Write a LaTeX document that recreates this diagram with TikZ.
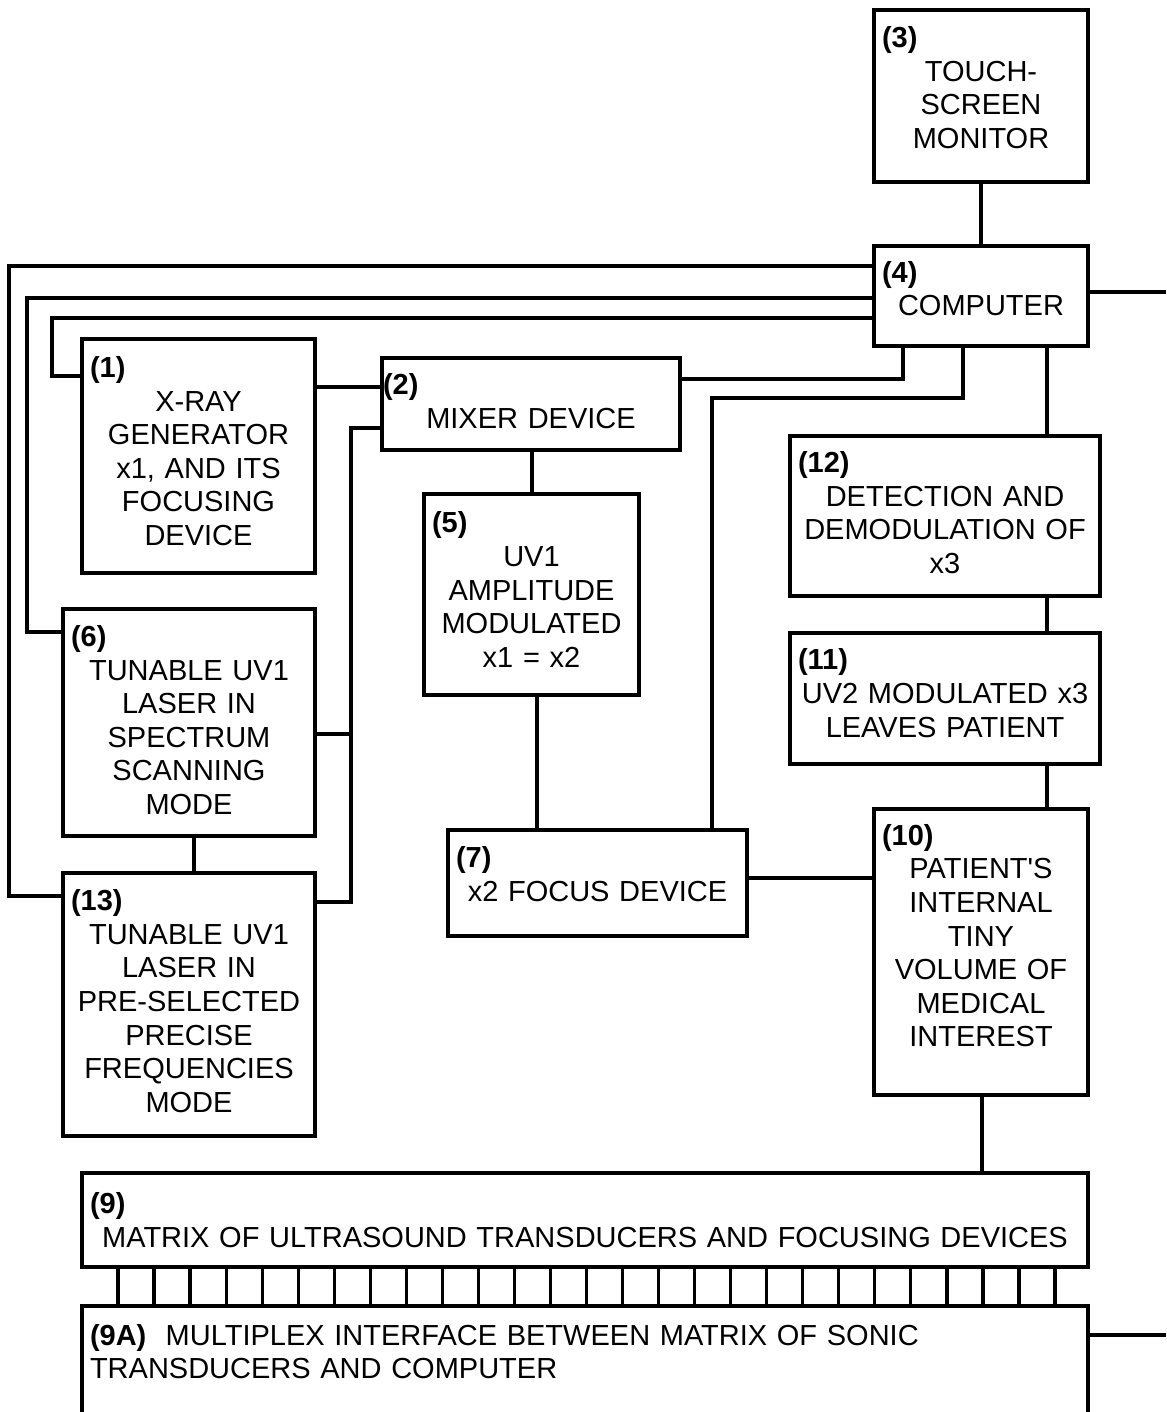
\documentclass[tikz,border=0pt]{standalone}
\usepackage{fontspec}
\setmainfont{Liberation Sans}
\usepackage{tikz}
\newcommand{\tagno}[1]{\makebox[\hsize][l]{\textbf{#1}}}
\newcommand{\lowpad}[1]{\rule[-#1]{0pt}{#1}}
\tikzset{
    BX/.style 2 args ={rectangle, draw, inner xsep=4pt, inner ysep=0pt, text width=#1, minimum height=#2, align=center, font=\fontsize{14.5pt}{16.8pt}\selectfont},
    BXL/.style 2 args ={BX={#1}{#2}, align=left}}
\begin{document}
\begin{tikzpicture}[x=0.5pt,y=-0.5pt,line width=1.6pt]
        \useasboundingbox (0,0) rectangle (1166,1412);
        \clip (0,0) rectangle (1166,1412);
        \node[BX={99pt}{86pt}] (3) at(981,96){\tagno{(3)}\\TOUCH-\\SCREEN\\MONITOR\lowpad{8.5pt}};
        \node[BX={99pt}{50pt}] (4) at(981,296){\tagno{(4)}\\COMPUTER\lowpad{7.5pt}};
        \node[BX={108.5pt}{117pt}] (1) at(198.5,456){\tagno{(1)}\\X-RAY\\GENERATOR\\x1, AND ITS\\FOCUSING\\DEVICE\lowpad{5pt}};
        \node[BX={148pt}{46pt}, inner xsep=0.5pt] (2) at(531,404){\tagno{(2)}\\MIXER DEVICE\lowpad{3pt}};
        \node[BX={99.5pt}{100.5pt}] (5) at(531.5,594.5){\tagno{(5)}\\UV1\\AMPLITUDE\\MODULATED\\x1 = x2\lowpad{5pt}};
        \node[BX={147pt}{80pt}] (12) at(945,516){\tagno{(12)}\\DETECTION AND\\DEMODULATION OF\\x3\lowpad{3.5pt}};
        \node[BX={147pt}{65.5pt}] (11) at(945,698.5){\tagno{(11)}\\UV2 MODULATED x3\\LEAVES PATIENT\lowpad{5.5pt}};
        \node[BX={118pt}{113.5pt}] (6) at(189,722.5){\tagno{(6)}\\TUNABLE UV1\\LASER IN\\SPECTRUM\\SCANNING\\MODE\lowpad{2.5pt}};
        \node[BX={118pt}{131.5pt}] (13) at(189,1004.5){\tagno{(13)}\\TUNABLE UV1\\LASER IN\\PRE-SELECTED\\PRECISE\\FREQUENCIES\\MODE\lowpad{3.5pt}};
        \node[BX={141.5pt}{53pt}] (7) at(597.5,883){\tagno{(7)}\\x2 FOCUS DEVICE\lowpad{9pt}};
        \node[BX={99pt}{143pt}] (10) at(981,952){\tagno{(10)}\\PATIENT\textquotesingle S\\INTERNAL\\TINY\\VOLUME OF\\MEDICAL\\INTEREST\lowpad{16.5pt}};
        \node[BX={495pt}{47pt}] (9) at(585,1220){\tagno{(9)}\\MATRIX OF ULTRASOUND TRANSDUCERS AND FOCUSING DEVICES};
        \node[BXL={495pt}{72pt}] (9A) at(585,1378){\textbf{(9A)}~~MULTIPLEX INTERFACE BETWEEN MATRIX OF SONIC\\TRANSDUCERS AND COMPUTER\lowpad{26.5pt}};
        \coordinate (R4) at (1166,292);
        \coordinate (R9) at (1166,1335);
        \coordinate (J6) at (351,734);
        \draw (3) -- (4);
        \draw (4.west |- 0,266) -| (9,896) -- (13.west |- 0,896);
        \draw (4.west |- 0,298) -| (27,632) -- (6.west |- 0,632);
        \draw (4.west |- 0,318) -| (52,376) -- (1.west |- 0,376);
        \draw (4.south -| 903,0) |- (2.east |- 0,379);
        \draw (4.south -| 963,0) |- (712,398) -- (7.north -| 712,0);
        \draw (4.south -| 1047,0) -- (12.north -| 1047,0);
        \draw (4.east |- R4) -- (R4);
        \draw (1.east |- 0,387) -- (2.west |- 0,387);
        \draw (2.west |- 0,428) -| (351,902) -- (13.east |- 0,902);
        \draw (6.east |- J6) -- (J6);
        \draw (2.south -| 532,0) -- (5.north -| 532,0);
        \draw (5.south -| 537,0) -- (7.north -| 537,0);
        \draw (6.south -| 194,0) -- (13.north -| 194,0);
        \draw (7.east |- 0,878) -- (10.west |- 0,878);
        \draw (12.south -| 1047,0) -- (11.north -| 1047,0);
        \draw (11.south -| 1047,0) -- (10.north -| 1047,0);
        \draw (10.south -| 982,0) -- (9.north -| 982,0);
        \foreach \i in {0,...,26}{
            \pgfmathsetmacro{\tx}{118+36.04*\i}
            \draw (9.south -| \tx,0) -- (9A.north -| \tx,0);}
        \draw (9A.east |- R9) -- (R9);
    \end{tikzpicture}
\end{document}
